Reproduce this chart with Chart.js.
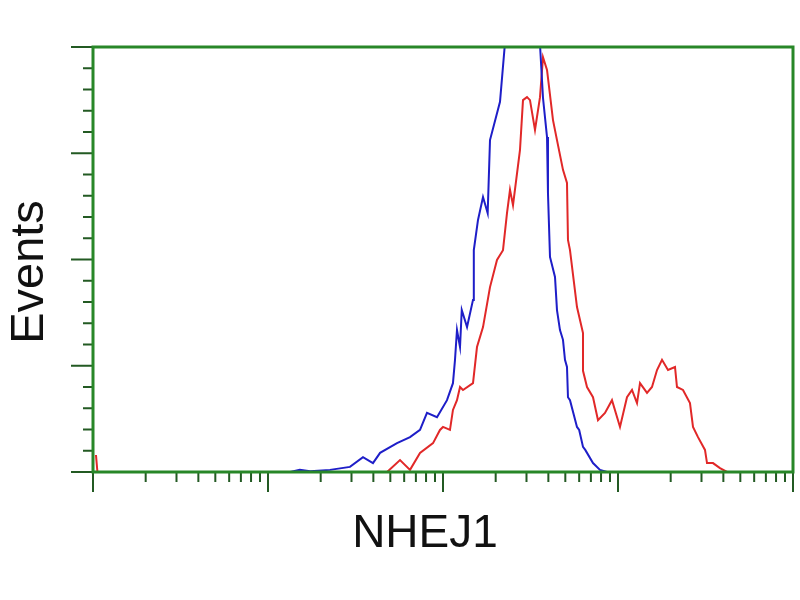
<!DOCTYPE html>
<html>
<head>
<meta charset="utf-8">
<title>NHEJ1</title>
<script src="https://cdn.jsdelivr.net/npm/chart.js@4/dist/chart.umd.min.js"></script>
<style>
	body { margin: 0; background: #fff; }
	#wrap { width: 800px; height: 600px; }
</style>
</head>
<body>
<div id="wrap"><canvas id="chart" width="800" height="600"></canvas></div>
<script>
// control (blue) histogram: fluorescence channel and % of max events
const blueX = [13.4, 15.2, 17.4, 22.6, 29.4, 34.9, 39.8, 43.7, 54.6, 64.8, 73.9, 81.0, 92.4, 105.4, 114.0, 117.1, 120.2, 125.1, 128.0, 137.2, 148.4, 150.0, 158.5, 169.3, 180.0, 185.6, 211.7, 226.1, 250.0, 300.0, 358.4, 372.8, 393.0, 398.0, 408.7, 436.5, 448.1, 466.1, 484.9, 497.8, 511.1, 517.8, 531.7, 583.0, 600.0, 631.0, 650.0, 719.7, 789.1, 865.1];
const blueY = [0, 0.5, 0.2, 0.5, 1.2, 3.5, 2.1, 4.5, 6.8, 8.2, 9.9, 13.9, 12.9, 16.9, 20.9, 26.4, 33.4, 29.4, 38.1, 34.1, 40.5, 52.2, 59.3, 64.7, 60.9, 78.1, 87.1, 101, 102, 101, 100.5, 88, 78.8, 65.6, 50.6, 45.9, 38.1, 33.4, 31.1, 26.4, 24.7, 17.6, 16.9, 10.6, 9.9, 5.9, 5.2, 2.1, 0.5, 0];

// NHEJ1 transfected (red) histogram
const redX = [1.04, 1.06, 43.7, 47.9, 56.8, 64.8, 73.9, 87.7, 96.1, 100, 109.6, 114.0, 120.2, 125.1, 130.1, 148.4, 156.4, 169.3, 185.6, 203.5, 220.2, 232.1, 241.5, 251.2, 275.4, 286.5, 302.0, 314.1, 335.5, 358.4, 372.8, 393.0, 425.2, 448.1, 484.9, 511.1, 517.8, 531.7, 583.0, 631.0, 631.0, 665.1, 719.7, 768.6, 842.6, 923.9, 1026.6, 1125.6, 1202.3, 1284.2, 1335.9, 1464.9, 1564, 1670.9, 1784.2, 1930.7, 2117, 2173, 2352, 2578, 2683, 2865, 3141, 3226, 3490, 3827, 4197, 4662];
const redY = [4, 0, 0, 0, 2.8, 0.5, 4.5, 6.8, 9.9, 10.6, 9.9, 14.6, 16.9, 20.0, 19.3, 20.9, 29.4, 34.1, 43.5, 49.9, 52.2, 60.9, 66.4, 62.8, 75.8, 87.5, 88.2, 87.5, 80.5, 88.2, 97.6, 94.6, 82.8, 78.1, 71.1, 68.0, 54.6, 52.2, 38.8, 32.7, 23.8, 20.0, 17.6, 12.2, 13.9, 16.9, 10.6, 17.6, 19.3, 16.2, 20.9, 18.6, 20.0, 24.0, 26.4, 24.0, 24.7, 20.0, 19.3, 16.2, 10.6, 8.2, 5.2, 2.1, 2.1, 0.9, 0, 0];

const xDecades = [1, 10, 100, 1000, 10000];
const yMajor = [0, 25, 50, 75, 100];

const toPoints = (xs, ys) => xs.map((x, i) => ({ x: x, y: ys[i] }));

const frameColor = 'rgb(40, 135, 40)';
const tickColor = 'rgb(35, 90, 35)';

const framePlugin = {
	id: 'frame',
	afterDatasetsDraw(chart) {
		const ctx = chart.ctx;
		const area = chart.chartArea;
		const xs = chart.scales.x;
		const ys = chart.scales.y;
		ctx.save();

		// tick marks
		ctx.strokeStyle = tickColor;
		ctx.lineWidth = 2;
		ctx.beginPath();
		for (let d = 0; d < xDecades.length; d++) {
			const px = xs.getPixelForValue(xDecades[d]);
			ctx.moveTo(px, area.bottom);
			ctx.lineTo(px, area.bottom + 20);
			if (d < xDecades.length - 1) {
				for (let m = 2; m <= 9; m++) {
					const mx = xs.getPixelForValue(m * xDecades[d]);
					ctx.moveTo(mx, area.bottom);
					ctx.lineTo(mx, area.bottom + 10);
				}
			}
		}
		for (let v = 0; v <= 100; v += 5) {
			const py = ys.getPixelForValue(v);
			const len = yMajor.includes(v) ? 22 : 10;
			ctx.moveTo(area.left, py);
			ctx.lineTo(area.left - len, py);
		}
		ctx.stroke();

		// green frame
		ctx.strokeStyle = frameColor;
		ctx.lineWidth = 3;
		ctx.strokeRect(area.left, area.top, area.right - area.left, area.bottom - area.top);

		// axis titles
		ctx.fillStyle = '#111';
		ctx.font = '46px "Liberation Sans", Arial, sans-serif';
		ctx.textAlign = 'center';
		ctx.textBaseline = 'middle';
		ctx.fillText('NHEJ1', (area.left + area.right) / 2 - 18, 534);
		ctx.translate(30, 272);
		ctx.rotate(-Math.PI / 2);
		ctx.font = '47px "Liberation Sans", Arial, sans-serif';
		ctx.fillText('Events', 0, 0);
		ctx.restore();
	},
};

new Chart(document.getElementById('chart'), {
	type: 'scatter',
	data: {
		datasets: [
			{
				label: 'Control',
				data: toPoints(blueX, blueY),
				showLine: true,
				borderColor: 'rgb(30, 30, 200)',
				borderWidth: 2,
				pointRadius: 0,
				tension: 0,
			},
			{
				label: 'NHEJ1',
				data: toPoints(redX, redY),
				showLine: true,
				borderColor: 'rgb(225, 40, 40)',
				borderWidth: 2,
				pointRadius: 0,
				tension: 0,
			},
		],
	},
	options: {
		responsive: false,
		animation: false,
		layout: {
			padding: { left: 93, right: 7, top: 47, bottom: 128 },
		},
		plugins: {
			legend: { display: false },
			tooltip: { enabled: false },
		},
		scales: {
			x: {
				type: 'logarithmic',
				min: 1,
				max: 10000,
				display: false,
			},
			y: {
				min: 0,
				max: 100,
				display: false,
			},
		},
	},
	plugins: [framePlugin],
});
</script>
</body>
</html>
